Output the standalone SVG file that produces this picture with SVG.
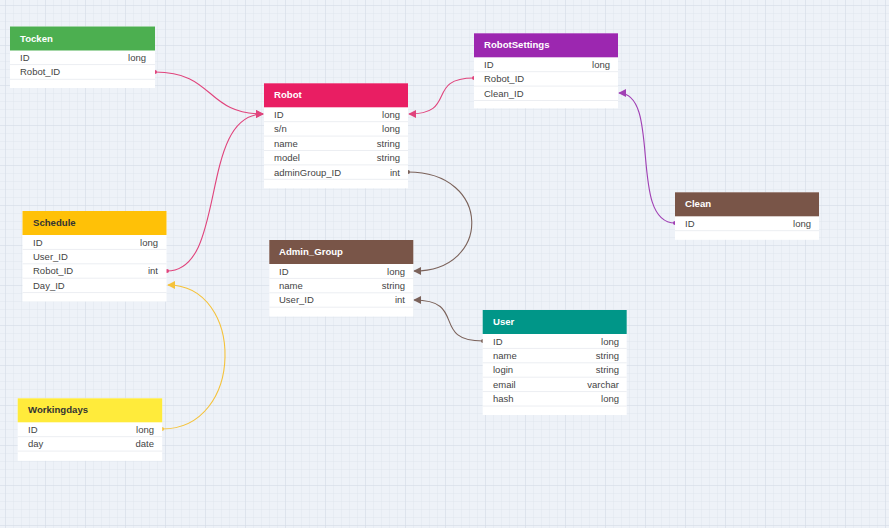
<svg xmlns="http://www.w3.org/2000/svg" width="889" height="528" viewBox="0 0 889 528">
<style>
.body{fill:#ffffff;}
.sep{stroke:#eceef2;stroke-width:1;}
.hd{font-family:"Liberation Sans",Arial,sans-serif;font-size:9.6px;font-weight:bold;fill:#ffffff;}
.hdd{font-family:"Liberation Sans",Arial,sans-serif;font-size:9.6px;font-weight:bold;fill:#333333;}
.f{font-family:"Liberation Sans",Arial,sans-serif;font-size:9.5px;fill:#444444;}
.t{font-family:"Liberation Sans",Arial,sans-serif;font-size:9.5px;fill:#444444;text-anchor:end;}
.c{fill:none;stroke-width:1.1;}
</style>
<defs>
<pattern id="minor" width="8" height="8" x="5" y="5" patternUnits="userSpaceOnUse">
<path d="M8 0H0V8" fill="none" stroke="#dde3ec" stroke-width="0.8"/>
</pattern>
<pattern id="major" width="40" height="40" x="5" y="5" patternUnits="userSpaceOnUse">
<path d="M40 0H0V40" fill="none" stroke="#d3dae6" stroke-width="0.9"/>
</pattern>
<marker id="aPink" viewBox="0 0 10 10" refX="9" refY="5" markerWidth="8" markerHeight="8" markerUnits="userSpaceOnUse" orient="auto"><path d="M0 0L10 5L0 10z" fill="#e0447c"/></marker>
<marker id="aBrown" viewBox="0 0 10 10" refX="9" refY="5" markerWidth="8" markerHeight="8" markerUnits="userSpaceOnUse" orient="auto"><path d="M0 0L10 5L0 10z" fill="#7b625a"/></marker>
<marker id="aPurple" viewBox="0 0 10 10" refX="9" refY="5" markerWidth="8" markerHeight="8" markerUnits="userSpaceOnUse" orient="auto"><path d="M0 0L10 5L0 10z" fill="#a040b4"/></marker>
<marker id="aYellow" viewBox="0 0 10 10" refX="9" refY="5" markerWidth="8" markerHeight="8" markerUnits="userSpaceOnUse" orient="auto"><path d="M0 0L10 5L0 10z" fill="#f5c23a"/></marker>
<marker id="dPink" viewBox="0 0 6 6" refX="3" refY="3" markerWidth="4" markerHeight="4" markerUnits="userSpaceOnUse"><circle cx="3" cy="3" r="3" fill="#e0447c"/></marker>
<marker id="dBrown" viewBox="0 0 6 6" refX="3" refY="3" markerWidth="4" markerHeight="4" markerUnits="userSpaceOnUse"><circle cx="3" cy="3" r="3" fill="#7b625a"/></marker>
<marker id="dPurple" viewBox="0 0 6 6" refX="3" refY="3" markerWidth="4" markerHeight="4" markerUnits="userSpaceOnUse"><circle cx="3" cy="3" r="3" fill="#a040b4"/></marker>
<marker id="dYellow" viewBox="0 0 6 6" refX="3" refY="3" markerWidth="4" markerHeight="4" markerUnits="userSpaceOnUse"><circle cx="3" cy="3" r="3" fill="#f5c23a"/></marker>
</defs>
<rect width="889" height="528" fill="#eef2f8"/>
<rect width="889" height="528" fill="url(#minor)"/>
<rect width="889" height="528" fill="url(#major)"/>

<g id="connectors">
<path class="c" stroke="#e0447c" d="M155,72 C215,72 205,114 263,114" marker-start="url(#dPink)" marker-end="url(#aPink)"/>
<path class="c" stroke="#e0447c" d="M167,271 C228,271 198,114 263,114" marker-start="url(#dPink)" marker-end="url(#aPink)"/>
<path class="c" stroke="#e0447c" d="M474,78 C425,78 458,114 409,114" marker-start="url(#dPink)" marker-end="url(#aPink)"/>
<path class="c" stroke="#7b625a" d="M408,172 C492,172 492,271 414,271" marker-start="url(#dBrown)" marker-end="url(#aBrown)"/>
<path class="c" stroke="#7b625a" d="M483,341 C430,341 468,300 414,300" marker-start="url(#dBrown)" marker-end="url(#aBrown)"/>
<path class="c" stroke="#a040b4" d="M675,223 C628,223 662,93 619,93" marker-start="url(#dPurple)" marker-end="url(#aPurple)"/>
<path class="c" stroke="#f5c23a" d="M162,429 C245,429 245,285 168,285" marker-start="url(#dYellow)" marker-end="url(#aYellow)"/>
</g>

<g id="Tocken">
<rect class="body" x="10" y="26.5" width="145" height="61.5"/>
<rect x="10" y="26.5" width="145" height="24" fill="#4caf50"/>
<text class="hd" x="20" y="41.5">Tocken</text>
<line class="sep" x1="10" y1="64.6" x2="155" y2="64.6"/>
<line class="sep" x1="10" y1="79.3" x2="155" y2="79.3"/>
<text class="f" x="20" y="60.7">ID</text><text class="t" x="146" y="60.7">long</text>
<text class="f" x="20" y="75.3">Robot_ID</text>
</g>

<g id="Robot">
<rect class="body" x="264" y="83.3" width="144" height="105"/>
<rect x="264" y="83.3" width="144" height="24" fill="#e91e63"/>
<text class="hd" x="274" y="98.3">Robot</text>
<line class="sep" x1="264" y1="121.7" x2="408" y2="121.7"/>
<line class="sep" x1="264" y1="136.1" x2="408" y2="136.1"/>
<line class="sep" x1="264" y1="150.5" x2="408" y2="150.5"/>
<line class="sep" x1="264" y1="164.9" x2="408" y2="164.9"/>
<line class="sep" x1="264" y1="179.3" x2="408" y2="179.3"/>
<text class="f" x="274" y="117.9">ID</text><text class="t" x="400" y="117.9">long</text>
<text class="f" x="274" y="132.3">s/n</text><text class="t" x="400" y="132.3">long</text>
<text class="f" x="274" y="146.7">name</text><text class="t" x="400" y="146.7">string</text>
<text class="f" x="274" y="161.1">model</text><text class="t" x="400" y="161.1">string</text>
<text class="f" x="274" y="175.5">adminGroup_ID</text><text class="t" x="400" y="175.5">int</text>
</g>

<g id="RobotSettings">
<rect class="body" x="474" y="33.3" width="144" height="75"/>
<rect x="474" y="33.3" width="144" height="24" fill="#9c27b0"/>
<text class="hd" x="484" y="48.3">RobotSettings</text>
<line class="sep" x1="474" y1="71.7" x2="618" y2="71.7"/>
<line class="sep" x1="474" y1="86.1" x2="618" y2="86.1"/>
<line class="sep" x1="474" y1="100.5" x2="618" y2="100.5"/>
<text class="f" x="484" y="67.9">ID</text><text class="t" x="610" y="67.9">long</text>
<text class="f" x="484" y="82.3">Robot_ID</text>
<text class="f" x="484" y="96.7">Clean_ID</text>
</g>

<g id="Schedule">
<rect class="body" x="22.5" y="211" width="144" height="90.5"/>
<rect x="22.5" y="211" width="144" height="24" fill="#ffc107"/>
<text class="hdd" x="33" y="226">Schedule</text>
<line class="sep" x1="22.5" y1="249.4" x2="166.5" y2="249.4"/>
<line class="sep" x1="22.5" y1="263.8" x2="166.5" y2="263.8"/>
<line class="sep" x1="22.5" y1="278.2" x2="166.5" y2="278.2"/>
<line class="sep" x1="22.5" y1="292.6" x2="166.5" y2="292.6"/>
<text class="f" x="33" y="245.6">ID</text><text class="t" x="158" y="245.6">long</text>
<text class="f" x="33" y="260">User_ID</text>
<text class="f" x="33" y="274.4">Robot_ID</text><text class="t" x="158" y="274.4">int</text>
<text class="f" x="33" y="288.8">Day_ID</text>
</g>

<g id="Admin_Group">
<rect class="body" x="269.3" y="240" width="144" height="76.5"/>
<rect x="269.3" y="240" width="144" height="24" fill="#795548"/>
<text class="hd" x="279" y="255">Admin_Group</text>
<line class="sep" x1="269.3" y1="278.4" x2="413.3" y2="278.4"/>
<line class="sep" x1="269.3" y1="292.8" x2="413.3" y2="292.8"/>
<line class="sep" x1="269.3" y1="307.2" x2="413.3" y2="307.2"/>
<text class="f" x="279" y="274.6">ID</text><text class="t" x="405" y="274.6">long</text>
<text class="f" x="279" y="289">name</text><text class="t" x="405" y="289">string</text>
<text class="f" x="279" y="303.4">User_ID</text><text class="t" x="405" y="303.4">int</text>
</g>

<g id="User">
<rect class="body" x="482.7" y="310" width="144" height="105"/>
<rect x="482.7" y="310" width="144" height="24" fill="#009688"/>
<text class="hd" x="493" y="325">User</text>
<line class="sep" x1="482.7" y1="348.4" x2="626.7" y2="348.4"/>
<line class="sep" x1="482.7" y1="362.8" x2="626.7" y2="362.8"/>
<line class="sep" x1="482.7" y1="377.2" x2="626.7" y2="377.2"/>
<line class="sep" x1="482.7" y1="391.6" x2="626.7" y2="391.6"/>
<line class="sep" x1="482.7" y1="406" x2="626.7" y2="406"/>
<text class="f" x="493" y="344.6">ID</text><text class="t" x="619" y="344.6">long</text>
<text class="f" x="493" y="359">name</text><text class="t" x="619" y="359">string</text>
<text class="f" x="493" y="373.4">login</text><text class="t" x="619" y="373.4">string</text>
<text class="f" x="493" y="387.8">email</text><text class="t" x="619" y="387.8">varchar</text>
<text class="f" x="493" y="402.2">hash</text><text class="t" x="619" y="402.2">long</text>
</g>

<g id="Clean">
<rect class="body" x="675" y="192.3" width="144" height="47.5"/>
<rect x="675" y="192.3" width="144" height="24" fill="#795548"/>
<text class="hd" x="685" y="207.3">Clean</text>
<line class="sep" x1="675" y1="230.7" x2="819" y2="230.7"/>
<text class="f" x="685" y="226.9">ID</text><text class="t" x="811" y="226.9">long</text>
</g>

<g id="Workingdays">
<rect class="body" x="17.7" y="398.3" width="144.5" height="62.5"/>
<rect x="17.7" y="398.3" width="144.5" height="24" fill="#ffeb3b"/>
<text class="hdd" x="28" y="413.3">Workingdays</text>
<line class="sep" x1="17.7" y1="436.7" x2="162.2" y2="436.7"/>
<line class="sep" x1="17.7" y1="451.1" x2="162.2" y2="451.1"/>
<text class="f" x="28" y="432.9">ID</text><text class="t" x="154" y="432.9">long</text>
<text class="f" x="28" y="447.3">day</text><text class="t" x="154" y="447.3">date</text>
</g>
</svg>
